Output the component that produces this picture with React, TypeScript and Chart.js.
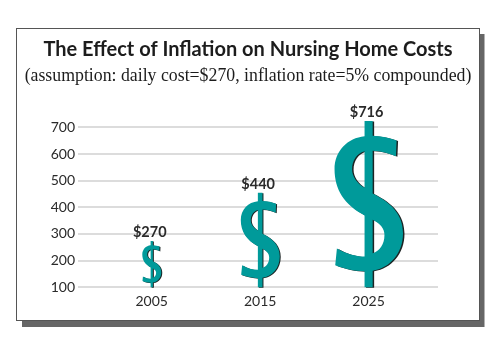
import React, { useEffect, useRef } from "react";
import { Chart, registerables } from "chart.js";

Chart.register(...registerables);

const titleText = "The Effect of Inflation on Nursing Home Costs";
const subtitleText = "(assumption: daily cost=$270, inflation rate=5% compounded)";
const years = [2005, 2015, 2025];
const costs = [270, 440, 716];
// Top of each dollar sign as read against the y axis (the signs overshoot their printed cost a little).
const symbolTops = [273, 455, 724];
const axisBase = 100;
const yTicks = [100, 200, 300, 400, 500, 600, 700];

const TEAL = "#009a9a";
const INK = "#2a2a2a";
const SANS = "Lato, 'Open Sans', sans-serif";

// Dollar sign outline, unit space: x from the centre as a share of height, y 0 (top) to 1 (bottom).
const u = (x: number, y: number): [number, number] => [(x - 207) / 493, (y - 62) / 493];
function dollarPath(cx: number, top: number, h: number) {
  const p = new Path2D();
  const P = (x: number, y: number): [number, number] => {
    const [a, b] = u(x, y);
    return [cx + a * h, top + b * h];
  };
  const M = (x: number, y: number) => p.moveTo(...P(x, y));
  const L = (x: number, y: number) => p.lineTo(...P(x, y));
  const C = (a: number, b: number, c: number, d: number, e: number, f: number) =>
    p.bezierCurveTo(...P(a, b), ...P(c, d), ...P(e, f));
  M(195, 62); L(219, 62); L(219, 106);
  C(245, 107, 270, 112, 290, 120); L(288, 167);
  C(268, 157, 244, 151, 219, 150); L(219, 277);
  C(275, 305, 309, 340, 309, 395);
  C(309, 455, 270, 498, 219, 506); L(219, 555); L(195, 555); L(195, 508);
  C(165, 507, 132, 500, 108, 490); L(113, 440);
  C(140, 455, 168, 464, 195, 464); L(195, 342);
  C(135, 310, 106, 265, 106, 205);
  C(106, 150, 145, 112, 195, 107); p.closePath();
  // counters of the S, cut around the vertical stroke
  M(195, 152); C(172, 158, 158, 180, 158, 205); C(158, 226, 172, 246, 195, 260); p.closePath();
  M(219, 355); L(219, 454); C(240, 447, 254, 428, 254, 400); C(254, 380, 241, 366, 219, 355); p.closePath();
  return p;
}

const decorPlugin = {
  id: "decor",
  beforeDraw(chart: any) {
    const { ctx } = chart;
    ctx.save();
    ctx.fillStyle = "#666666";
    ctx.fillRect(22, 34, 462.5, 293);
    ctx.fillStyle = "#ffffff";
    ctx.fillRect(16, 28, 464, 292);
    ctx.strokeStyle = "#555555";
    ctx.lineWidth = 1;
    ctx.strokeRect(16.5, 28.5, 463, 292);
    ctx.restore();
  },
  afterDatasetsDraw(chart: any) {
    const { ctx } = chart;
    const y = chart.scales.y;
    const meta = chart.getDatasetMeta(0);
    ctx.save();
    meta.data.forEach((bar: any, i: number) => {
      const top = y.getPixelForValue(symbolTops[i]);
      const base = y.getPixelForValue(axisBase);
      const h = base - top;
      ctx.fillStyle = "#1c2424";
      ctx.fill(dollarPath(bar.x + Math.max(1, h * 0.009), top + 0.5, h), "evenodd");
      ctx.fillStyle = TEAL;
      ctx.fill(dollarPath(bar.x, top, h), "evenodd");
      ctx.fillStyle = INK;
      ctx.font = `700 14.5px ${SANS}`;
      ctx.textAlign = "center";
      ctx.textBaseline = "alphabetic";
      ctx.fillText(`$${costs[i]}`, bar.x - 2, top - 4);
    });
    ctx.restore();
  },
};

export default function App() {
  const ref = useRef<HTMLCanvasElement>(null);
  useEffect(() => {
    const chart = new Chart(ref.current!, {
      type: "bar",
      data: {
        datasets: [
          {
            label: "Daily cost",
            data: years.map((x, i) => ({ x, y: [axisBase, symbolTops[i]] })),
            backgroundColor: "rgba(0,0,0,0)",
            barThickness: 40,
          },
        ],
      } as any,
      options: {
        responsive: false,
        animation: false,
        devicePixelRatio: 1,
        layout: { padding: { left: 0, right: 4, top: 38, bottom: 49 } },
        plugins: {
          legend: { display: false },
          tooltip: { enabled: false },
          title: {
            display: true,
            text: titleText,
            color: "#1c1c1c",
            font: { family: SANS, size: 20, weight: "bold" },
            padding: { top: 0, bottom: 4 },
          },
          subtitle: {
            display: true,
            text: subtitleText,
            color: "#1c1c1c",
            font: { family: "'Liberation Serif', serif", size: 17.8, weight: "normal" },
            padding: { top: 0, bottom: 40 },
          },
        },
        scales: {
          x: {
            type: "linear",
            offset: false,
            min: 1998.2,
            max: 2031.4,
            grid: { display: false },
            border: { display: false },
            afterBuildTicks: (s: any) => {
              s.ticks = years.map((value) => ({ value }));
            },
            ticks: {
              color: INK,
              autoSkip: false,
              maxRotation: 0,
              padding: -2,
              font: { family: SANS, size: 14 },
              callback: (v: any) => String(v),
            },
          },
          y: {
            min: 100,
            max: 700,
            afterBuildTicks: (s: any) => {
              s.ticks = yTicks.map((value) => ({ value }));
            },
            afterFit: (s: any) => {
              s.width = 78;
            },
            grid: { color: "#dcdcdc", lineWidth: 2, drawTicks: false },
            border: { display: false },
            ticks: { color: INK, padding: 3, font: { family: SANS, size: 14 } },
          },
          r: {
            type: "linear",
            position: "right",
            grid: { display: false },
            border: { display: false },
            ticks: { display: false },
            afterFit: (s: any) => {
              s.width = 58;
            },
          },
        },
      } as any,
      plugins: [decorPlugin],
    });
    return () => chart.destroy();
  }, []);
  return (
    <canvas
      ref={ref}
      width={500}
      height={357}
      style={{ position: "fixed", left: 0, top: 0, width: 500, height: 357 }}
    />
  );
}
